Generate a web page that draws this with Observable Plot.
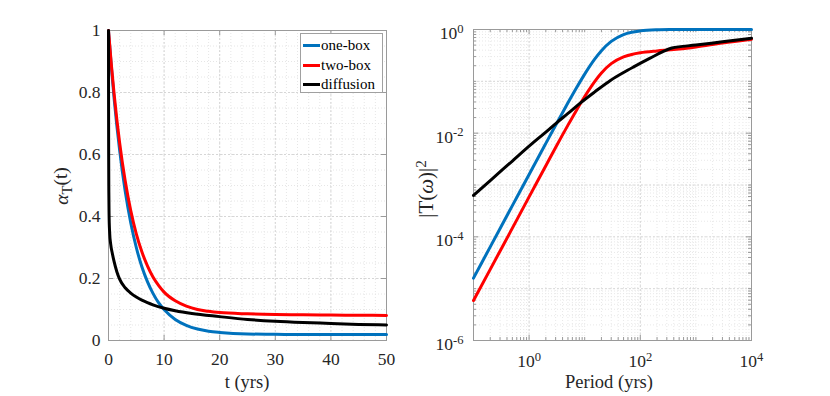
<!DOCTYPE html>
<html><head><meta charset="utf-8">
<script src="https://cdn.jsdelivr.net/npm/d3@7"></script>
<script src="https://cdn.jsdelivr.net/npm/@observablehq/plot@0.6"></script>
<style>
body{margin:0;background:#fff;}
#wrap{position:relative;width:830px;height:396px;font-family:"Liberation Serif";color:#262626;}
#left,#right{position:absolute;top:0;}
#left{left:0}#right{left:400px}
.legend{position:absolute;left:300px;top:33px;width:81px;height:58px;border:1px solid #a0a0a0;background:#fff;font-size:15px;font-family:"Liberation Serif";color:#000;}
.legend .row{position:absolute;left:2px;height:19px;line-height:19px;white-space:nowrap;}
.legend .sw{display:inline-block;width:17px;height:3px;vertical-align:middle;margin-right:1px;position:relative;top:-1px;}
</style></head><body>
<div id="wrap"><div id="left"></div><div id="right"></div>
<div class="legend" id="legend"></div></div>
<script>
// ---- data (left panel) ----
const tBox = [0,0.5,1,2,3,4,5,6,7,8,9,10,12,14,16,18,20,25,30,35,40,45,50];
const oneBoxAlpha = [1,0.885,0.783,0.614,0.482,0.380,0.300,0.238,0.190,0.152,0.122,0.100,0.068,0.049,0.037,0.030,0.026,0.021,0.020,0.019,0.019,0.019,0.019];
const twoBoxAlpha = [1,0.892,0.797,0.638,0.515,0.419,0.344,0.286,0.241,0.205,0.178,0.156,0.128,0.111,0.100,0.094,0.090,0.086,0.084,0.083,0.082,0.0815,0.081];
const tDiff = [0,0.01,0.03,0.06,0.1,0.2,0.4,0.7,1,1.5,2,3,4,5,6,7,8,10,12,15,20,25,30,35,40,45,50];
const diffusionAlpha = [1,0.8,0.6,0.48,0.41,0.35,0.31,0.28,0.255,0.222,0.198,0.17,0.153,0.14,0.13,0.122,0.115,0.104,0.096,0.087,0.077,0.068,0.062,0.058,0.055,0.052,0.05];
// ---- data (right panel) ----
const periodBox = [0.1,0.2,0.5,1,2,3,5,7,10,15,20,30,50,70,100,200,350,500,1000,3000,10000];
const oneBoxT = [1.6e-5,6.4e-5,4e-4,1.6e-3,6.35e-3,0.0142,0.0385,0.0727,0.138,0.265,0.39,0.59,0.8,0.887,0.941,0.985,0.995,0.997,0.999,1,1];
const twoBoxT = [5.9e-6,2.36e-5,1.47e-4,5.9e-4,2.35e-3,5.3e-3,0.0143,0.0269,0.051,0.098,0.145,0.219,0.296,0.33,0.355,0.385,0.405,0.42,0.46,0.55,0.65];
const periodDiff = [0.1,0.2,0.5,1,2,3.2,5,8.3,15,29,50,76,150,250,370,1000,3000,10000];
const diffusionT = [6.3e-4,1.22e-3,2.9e-3,5.6e-3,0.0105,0.0162,0.024,0.038,0.062,0.104,0.148,0.19,0.28,0.37,0.44,0.50,0.58,0.68];
// ---- series / ticks ----
const seriesNames = ["one-box","two-box","diffusion"];
const seriesColors = ["#0072BD","#FF0000","#000000"];
const xTicksLeft = [0,10,20,30,40,50];
const yTicksLeft = [0,0.2,0.4,0.6,0.8,1];
const yTickLabelsLeft = ["0","0.2","0.4","0.6","0.8","1"];
const xTicksRight = [1,100,10000];
const yTicksRight = [1e-6,1e-4,1e-2,1];

const FONT = "Liberation Serif";
const frameColor = "#9a9a9a";
const H = 396;

function rows(xs, ys){ return xs.map((x,i)=>({x, y: ys[i]})); }
function supify(svg){
  d3.select(svg).selectAll('g[aria-label$="tick label"] text').each(function(){
    const s = this.textContent, i = s.indexOf("^");
    if (i < 0) return;
    const isY = this.parentNode.getAttribute("aria-label").startsWith("y");
    const t = d3.select(this); t.text(null);
    t.append("tspan").attr("dy", isY ? "0.22em" : "0em").text(s.slice(0,i));
    t.append("tspan").attr("dy","-0.5em").attr("font-size","0.72em").text(s.slice(i+1));
  });
}
function fixFont(svg){
  const s = d3.select(svg);
  s.attr("font-family", FONT).attr("font-size", 17.5);
  s.selectAll("g").attr("font-family", null).attr("font-size", null);
  s.selectAll("text").attr("font-family", FONT).style("font-family", FONT);
}

// ---------- LEFT ----------
{
  const W=400, mL=108,mR=14,mT=30,mB=56, iw=W-mL-mR, ih=H-mT-mB;
  const minorX = d3.range(0,51,2), minorY = d3.range(0,1.0001,0.05);
  const plot = Plot.plot({
    width:W,height:H,marginLeft:mL,marginRight:mR,marginTop:mT,marginBottom:mB,
    style:{background:"transparent",overflow:"visible",color:"#262626"},
    x:{domain:[0,50]}, y:{domain:[0,1]},
    marks:[
      Plot.gridX(minorX,{stroke:"#e6e6e6",strokeOpacity:1,strokeDasharray:"1,2"}),
      Plot.gridY(minorY,{stroke:"#e6e6e6",strokeOpacity:1,strokeDasharray:"1,2"}),
      Plot.gridX(xTicksLeft,{stroke:"#d6d6d6",strokeOpacity:1,strokeDasharray:"2,2"}),
      Plot.gridY(yTicksLeft,{stroke:"#d6d6d6",strokeOpacity:1,strokeDasharray:"2,2"}),
      Plot.frame({stroke:frameColor}),
      Plot.tickX(xTicksLeft,{x:d=>d,insetTop:ih-5,stroke:frameColor}),
      Plot.tickX(xTicksLeft,{x:d=>d,insetBottom:ih-5,stroke:frameColor}),
      Plot.tickY(yTicksLeft,{y:d=>d,insetRight:iw-5,stroke:frameColor}),
      Plot.tickY(yTicksLeft,{y:d=>d,insetLeft:iw-5,stroke:frameColor}),
      Plot.axisX(xTicksLeft,{tickSize:0,tickPadding:12,label:null,fontSize:17.5}),
      Plot.axisY(yTicksLeft,{tickSize:0,tickPadding:8,label:null,fontSize:17.5,tickFormat:(d,i)=>yTickLabelsLeft[i]}),
      Plot.line(rows(tBox,oneBoxAlpha),{x:"x",y:"y",stroke:seriesColors[0],strokeWidth:3,curve:"monotone-x"}),
      Plot.line(rows(tBox,twoBoxAlpha),{x:"x",y:"y",stroke:seriesColors[1],strokeWidth:3,curve:"monotone-x"}),
      Plot.line(rows(tDiff,diffusionAlpha),{x:"x",y:"y",stroke:seriesColors[2],strokeWidth:3,curve:"monotone-x"})
    ]
  });
  fixFont(plot);
  const s = d3.select(plot);
  s.append("text").attr("x",mL+iw/2).attr("y",388).attr("text-anchor","middle").attr("font-family",FONT)
    .attr("font-size","18.5px").attr("fill","#262626").text("t (yrs)");
  const yl = s.append("text").attr("transform","translate(68,186) rotate(-90)").attr("font-family",FONT)
    .attr("text-anchor","middle").attr("font-size","19.5px").attr("fill","#262626");
  yl.append("tspan").attr("font-style","italic").text("α");
  yl.append("tspan").attr("dy","0.3em").attr("font-size","0.75em").text("T");
  yl.append("tspan").attr("dy","-0.3em").text("(t)");
  document.getElementById("left").appendChild(plot);
}

// ---------- RIGHT ----------
{
  const W=430, mL=73,mR=79,mT=29,mB=56, iw=W-mL-mR, ih=H-mT-mB;
  const minorX = [], minorY = [], decY = [];
  for (let e=-1;e<=3;e++) for (let k=1;k<=9;k++) minorX.push(k*10**e);
  minorX.push(1e4);
  for (let e=-6;e<=-1;e++) { decY.push(10**e); for (let k=1;k<=9;k++) minorY.push(k*10**e); }
  decY.push(1);
  const xMinorTicks = minorX.filter(v=>!xTicksRight.some(t=>Math.abs(t-v)/t<1e-9));
  const yMinorTicks = minorY.filter(v=>!yTicksRight.some(t=>Math.abs(t-v)/t<1e-9));
  const plot = Plot.plot({
    width:W,height:H,marginLeft:mL,marginRight:mR,marginTop:mT,marginBottom:mB,
    style:{background:"transparent",overflow:"visible",color:"#262626"},
    x:{type:"log",domain:[0.1,1e4]}, y:{type:"log",domain:[1e-6,1]},
    marks:[
      Plot.gridX(minorX,{stroke:"#e8e8e8",strokeOpacity:1,strokeDasharray:"1,2"}),
      Plot.gridY(minorY,{stroke:"#e8e8e8",strokeOpacity:1,strokeDasharray:"1,2"}),
      Plot.gridX(xTicksRight,{stroke:"#d6d6d6",strokeOpacity:1,strokeDasharray:"2,2"}),
      Plot.gridY(decY,{stroke:"#d9d9d9",strokeOpacity:1,strokeDasharray:"2,2"}),
      Plot.frame({stroke:frameColor}),
      Plot.tickX(xTicksRight,{x:d=>d,insetTop:ih-5,stroke:frameColor}),
      Plot.tickX(xTicksRight,{x:d=>d,insetBottom:ih-5,stroke:frameColor}),
      Plot.tickX(xMinorTicks,{x:d=>d,insetTop:ih-3,stroke:frameColor}),
      Plot.tickX(xMinorTicks,{x:d=>d,insetBottom:ih-3,stroke:frameColor}),
      Plot.tickY(yTicksRight,{y:d=>d,insetRight:iw-5,stroke:frameColor}),
      Plot.tickY(yTicksRight,{y:d=>d,insetLeft:iw-5,stroke:frameColor}),
      Plot.tickY(yMinorTicks,{y:d=>d,insetRight:iw-3,stroke:frameColor}),
      Plot.tickY(yMinorTicks,{y:d=>d,insetLeft:iw-3,stroke:frameColor}),
      Plot.axisX(xTicksRight,{tickSize:0,tickPadding:14,label:null,fontSize:17.5,tickFormat:d=>"10^"+Math.round(Math.log10(d))}),
      Plot.axisY(yTicksRight,{tickSize:0,tickPadding:10,label:null,fontSize:17.5,tickFormat:d=>"10^"+Math.round(Math.log10(d))}),
      Plot.line(rows(periodBox,oneBoxT),{x:"x",y:"y",stroke:seriesColors[0],strokeWidth:3,curve:"monotone-x"}),
      Plot.line(rows(periodBox,twoBoxT),{x:"x",y:"y",stroke:seriesColors[1],strokeWidth:3,curve:"monotone-x"}),
      Plot.line(rows(periodDiff,diffusionT),{x:"x",y:"y",stroke:seriesColors[2],strokeWidth:3,curve:"monotone-x"})
    ]
  });
  fixFont(plot);
  supify(plot);
  const s = d3.select(plot);
  s.append("text").attr("x",mL+iw/2-3).attr("y",388).attr("text-anchor","middle").attr("font-family",FONT)
    .attr("font-size","18.5px").attr("fill","#262626").text("Period (yrs)");
  const yl = s.append("text").attr("transform","translate(33,189) rotate(-90)").attr("font-family",FONT)
    .attr("text-anchor","middle").attr("font-size","21px").attr("fill","#262626");
  yl.append("tspan").text("|T(");
  yl.append("tspan").attr("font-style","italic").text("ω");
  yl.append("tspan").text(")|");
  yl.append("tspan").attr("dy","-0.45em").attr("font-size","0.72em").text("2");
  document.getElementById("right").appendChild(plot);
}

// ---------- legend ----------
{
  const lg = d3.select("#legend");
  seriesNames.forEach((name,i)=>{
    const r = lg.append("div").attr("class","row").style("top",(2+i*19.5)+"px");
    r.append("span").attr("class","sw").style("background",seriesColors[i]);
    r.append("span").text(name);
  });
}
</script>
</body></html>
